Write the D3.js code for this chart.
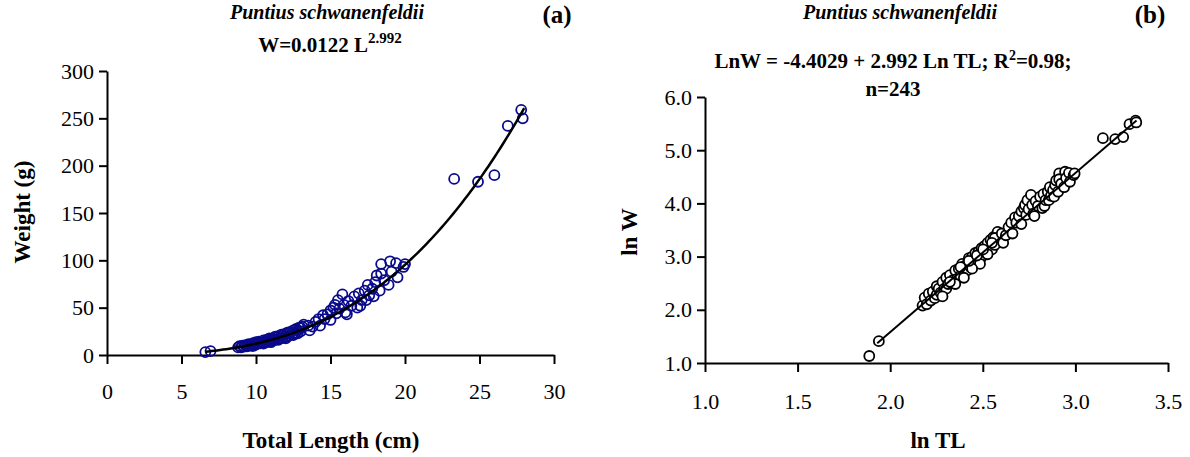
<!DOCTYPE html>
<html>
<head>
<meta charset="utf-8">
<script src="https://cdn.jsdelivr.net/npm/d3@7"></script>
<style>
  html, body { margin: 0; padding: 0; background: #fff; }
</style>
</head>
<body>
<svg id="chart" width="1190" height="457"></svg>
<script>
// ---- Data ----
const totalLength = [6.6, 6.95,
  8.8, 8.9, 9.0, 9.1, 9.2, 9.3, 9.4, 9.5, 9.5, 9.6, 9.7, 9.8, 9.9, 10.0, 10.0, 10.1, 10.2, 10.3,
  10.4, 10.5, 10.6, 10.7, 10.8, 10.9, 11.0, 11.1, 11.2, 11.3, 11.4, 11.5, 11.6, 11.7, 11.8, 11.9,
  12.0, 12.1, 12.2, 12.3, 12.4, 12.5, 12.6, 12.7, 12.8, 12.9, 13.0, 13.1, 13.2, 13.0, 12.5, 12.0,
  11.5, 11.0, 10.5, 9.8, 10.2, 10.8, 11.3, 11.8, 12.2, 12.8, 13.5, 13.6, 13.8, 14.0, 14.2, 14.3,
  14.5, 14.6, 14.8, 15.0, 15.0, 15.2, 15.3, 15.4, 15.5, 15.6, 15.8, 15.9, 16.0, 16.1, 16.2, 16.4,
  16.6, 16.8, 16.9, 17.0, 17.1, 17.3, 17.4, 17.5, 17.6, 17.8, 17.9, 18.0, 18.1, 18.3, 18.4, 18.4,
  18.6, 18.9, 19.0, 19.1, 19.4, 19.5, 19.9, 20.0, 23.3, 24.9, 26.0, 26.9, 27.8, 27.9];
const weight = [3.1, 4.1,
  8.0, 9.3, 8.2, 10.0, 8.8, 10.4, 9.2, 11.5, 9.8, 11.0, 10.2, 12.5, 11.0, 13.5, 11.0, 12.0, 14.2, 12.2,
  13.0, 15.5, 13.2, 16.0, 14.0, 17.5, 15.0, 17.0, 15.5, 19.5, 16.5, 20.0, 17.5, 21.5, 18.0, 22.0,
  19.0, 23.5, 20.5, 24.5, 21.5, 26.0, 22.5, 27.5, 23.0, 29.0, 25.0, 30.0, 32.0, 28.5, 21.0, 17.5,
  16.0, 13.5, 12.0, 9.5, 12.5, 16.5, 18.5, 20.5, 23.0, 26.0, 31.0, 26.0, 30.0, 35, 38, 31,
  42, 38, 43, 47, 37, 50, 53, 44, 58, 49, 64, 53, 45, 43, 57, 52,
  62, 50, 65, 52, 58, 68, 58, 74, 63, 70, 62, 77, 84, 68, 96, 86,
  79, 74, 99, 88, 97, 82, 93, 96, 186, 183, 190, 242, 259, 250];

// Fitted relationships shown on the chart
const fitA = 0.0122, fitB = 2.992;      // W = a L^b
const lnIntercept = -4.4029;             // LnW = -4.4029 + 2.992 Ln TL
const fitRangeA = [6.6, 28.0];
const fitRangeB = [1.93, 3.33];

const xTicksA = [0, 5, 10, 15, 20, 25, 30];
const yTicksA = [0, 50, 100, 150, 200, 250, 300];
const xTicksB = [1.0, 1.5, 2.0, 2.5, 3.0, 3.5];
const yTicksB = [1.0, 2.0, 3.0, 4.0, 5.0, 6.0];

const FONT = "'Liberation Serif'";
const svg = d3.select("#chart");

function styleAxis(g) {
  g.attr("font-family", null);
  g.select(".domain").attr("stroke", "#000").attr("stroke-width", 2);
  g.selectAll(".tick line").attr("stroke", "#000").attr("stroke-width", 2);
  g.selectAll(".tick text").attr("font-size", 22).attr("fill", "#000").style("font-family", FONT);
}
function label(g, x, y, size, txt, opts = {}) {
  const t = g.append("text").attr("text-anchor", "middle")
    .attr("font-size", size).attr("font-weight", "bold").style("font-family", FONT);
  if (opts.italic) t.attr("font-style", "italic");
  if (opts.rotate) t.attr("transform", `translate(${x},${y}) rotate(-90)`);
  else t.attr("x", x).attr("y", y);
  if (txt) t.text(txt);
  return t;
}

// ---------------- Panel (a) ----------------
const xA = d3.scaleLinear().domain([0, 30]).range([107, 554]);
const yA = d3.scaleLinear().domain([0, 300]).range([355, 71]);
const gA = svg.append("g");

gA.append("g").attr("transform", "translate(0,355)")
  .call(d3.axisBottom(xA).tickValues(xTicksA).tickSize(9).tickSizeOuter(0).tickPadding(19).tickFormat(d3.format("d")))
  .call(styleAxis);
gA.append("g").attr("transform", "translate(107,0)")
  .call(d3.axisLeft(yA).tickValues(yTicksA).tickSize(8).tickSizeOuter(0).tickPadding(5).tickFormat(d3.format("d")))
  .call(styleAxis);

const dataA = totalLength.map((t, i) => ({ t, w: weight[i] }));
gA.append("g").selectAll("circle").data(dataA).join("circle")
  .attr("cx", d => xA(d.t)).attr("cy", d => yA(d.w)).attr("r", 5)
  .attr("fill", "none").attr("stroke", "#0a0a8c").attr("stroke-width", 1.8);

const curveXs = d3.range(fitRangeA[0], fitRangeA[1] + 0.001, 0.2);
gA.append("path")
  .attr("d", d3.line().x(d => xA(d)).y(d => yA(fitA * Math.pow(d, fitB)))(curveXs))
  .attr("fill", "none").attr("stroke", "#000").attr("stroke-width", 2.5);

label(gA, 327, 19, 20, "Puntius schwanenfeldii", { italic: true });
label(gA, 557, 23, 25, "(a)");
const eqA = label(gA, 330, 52, 21, null);
eqA.append("tspan").text("W=0.0122 L");
eqA.append("tspan").attr("dy", -9).attr("font-size", 15).text("2.992");
label(gA, 30, 212, 23, "Weight (g)", { rotate: true });
label(gA, 331, 448, 23, "Total Length (cm)");

// ---------------- Panel (b) ----------------
const xB = d3.scaleLinear().domain([1.0, 3.5]).range([705, 1168]);
const yB = d3.scaleLinear().domain([1.0, 6.0]).range([363, 97]);
const gB = svg.append("g");

gB.append("g").attr("transform", "translate(0,363)")
  .call(d3.axisBottom(xB).tickValues(xTicksB).tickSize(9).tickSizeOuter(0).tickPadding(21).tickFormat(d3.format(".1f")))
  .call(styleAxis);
gB.append("g").attr("transform", "translate(705,0)")
  .call(d3.axisLeft(yB).tickValues(yTicksB).tickSize(8).tickSizeOuter(0).tickPadding(5).tickFormat(d3.format(".1f")))
  .call(styleAxis);

const dataB = dataA.map(d => ({ lx: Math.log(d.t), ly: Math.log(d.w) }));
gB.append("g").selectAll("circle").data(dataB).join("circle")
  .attr("cx", d => xB(d.lx)).attr("cy", d => yB(d.ly)).attr("r", 5)
  .attr("fill", "#fff").attr("stroke", "#000").attr("stroke-width", 1.8);

gB.append("path")
  .attr("d", d3.line().x(d => xB(d)).y(d => yB(lnIntercept + fitB * d))(fitRangeB))
  .attr("fill", "none").attr("stroke", "#000").attr("stroke-width", 2);

label(gB, 900, 19, 20, "Puntius schwanenfeldii", { italic: true });
label(gB, 1150, 23, 25, "(b)");
const eqB = label(gB, 893, 68, 21, null);
eqB.append("tspan").text("LnW = -4.4029 + 2.992 Ln TL; R");
eqB.append("tspan").attr("dy", -8).attr("font-size", 14).text("2");
eqB.append("tspan").attr("dy", 8).text("=0.98;");
label(gB, 893, 96, 21, "n=243");
label(gB, 637, 232, 23, "ln W", { rotate: true });
label(gB, 938, 448, 23, "ln TL");
</script>
</body>
</html>
